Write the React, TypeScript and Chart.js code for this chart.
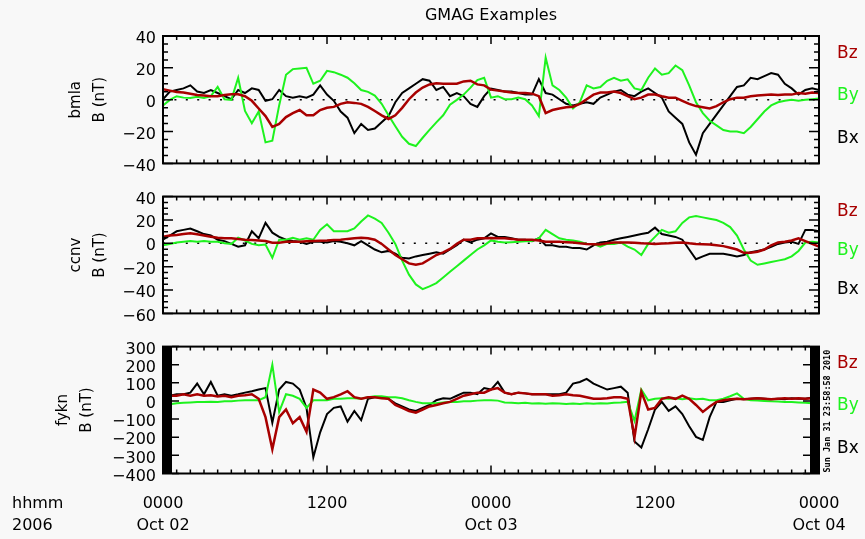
"use client"

import { useEffect, useRef } from "react"
import { Chart, registerables } from "chart.js"

Chart.register(...registerables)

const FONT = "'DejaVu Sans', 'Liberation Sans', sans-serif"
const MONO = "'DejaVu Sans Mono', monospace"
const BACKGROUND = "#f8f8f8"
const RED = "#a80000"
const GREEN = "#1ef21e"
const BLACK = "#000000"
const WIDTH = 865
const HEIGHT = 539

// half-hour samples, hours after 2006-10-02 00:00 UT
const hours = Array.from({ length: 97 }, (_, i) => i / 2)

const xTickHours = [0, 12, 24, 36, 48]
const xTickTimes = ["0000", "1200", "0000", "1200", "0000"]
const xTickDates = ["Oct 02", "", "Oct 03", "", "Oct 04"]
const xAxisCaption = ["hhmm", "2006"]

const components = ["Bz", "By", "Bx"]
const stamp = "Sun Jan 31 23:58:58 2010"

// bmla (nT)
const bmlaBz = [
  6.5, 5.7, 4.9, 4.5, 3.8, 3.0, 2.6, 2.2, 2.2, 3.0,
  3.4, 3.4, 2.2, -0.7, -5.5, -10.3, -17.1, -15.2, -10.9, -8.4,
  -6.5, -9.8, -9.8, -6.5, -5.1, -4.5, -2.6, -1.6, -2.0, -2.6,
  -4.5, -7.1, -9.8, -12.1, -9.8, -5.1, 0.3, 4.5, 7.6, 9.6,
  10.3, 10.0, 10.0, 10.0, 11.5, 11.9, 9.6, 9.0, 6.3,
  5.7, 5.1, 4.5, 4.2, 4.2, 3.8, 2.2, -8.4, -6.5, -5.5,
  -4.7, -4.5, -2.6, 0.3, 3.2, 4.5, 4.5, 5.1, 4.2, 2.2,
  0.3, 1.3, 3.2, 3.2, 2.2, 1.3, 1.3, -0.7, -2.6, -4.0,
  -4.7, -5.5, -4.0, -1.6, 0.3, 1.3, 1.3, 2.2, 2.6, 3.0,
  3.2, 3.0, 3.2, 3.2, 4.2, 3.8, 4.5, 4.2,
]
const bmlaBy = [
  -3.6, -0.1, 2.2, 1.3, 1.1, 1.8, 1.1, 2.2, 8.0, 0.3,
  -0.1, 13.8, -7.1, -14.8, -7.4, -26.8, -25.8, -3.6, 15.7, 19.2,
  19.6, 20.0, 10.0, 11.9, 18.1, 17.3, 15.7, 13.8, 10.3, 6.1,
  4.9, 2.6, -2.6, -9.8, -16.7, -23.3, -27.7, -29.1, -23.9, -19.0,
  -14.2, -9.8, -3.2, -0.1, 3.2, 7.6, 12.3, 13.8, 1.3,
  2.2, 0.3, 0.3, 1.3, 0.3, -3.6, -10.3, 26.4, 9.0, 6.1,
  1.3, -5.5, -1.6, 9.0, 7.1, 8.0, 11.9, 13.8, 11.9, 12.8,
  7.1, 6.1, 13.8, 19.6, 15.7, 16.7, 21.5, 18.6, 9.0, -1.6,
  -8.4, -13.2, -16.1, -19.0, -20.0, -20.0, -21.0, -17.1, -12.3, -7.4,
  -3.6, -1.6, -0.7, -0.1, -0.7, -0.1, 0.3, 0.7,
]
const bmlaBx = [
  0.3, 5.1, 6.1, 7.1, 9.0, 5.1, 4.2, 6.1, 4.2, 2.2,
  0.3, 6.1, 4.2, 7.1, 6.1, -0.7, 0.3, 6.1, 2.2, 1.3,
  2.2, 1.3, 3.2, 9.0, 3.2, -0.7, -7.4, -11.3, -21.0, -15.2,
  -19.0, -18.1, -14.2, -10.3, -1.6, 4.2, 7.1, 10.0, 12.9, 11.9,
  6.1, 8.0, 2.2, 4.2, 2.2, -2.6, -4.5, 2.2, 7.0,
  6.1, 5.1, 5.1, 4.2, 3.2, 3.2, 12.9, 4.2, 3.2, 0.3,
  -2.6, -3.6, -2.6, -1.6, -2.6, 1.3, 3.2, 5.1, 6.1, 3.2,
  2.2, 5.1, 7.1, 4.2, 1.3, -7.4, -11.3, -15.2, -26.8, -34.5,
  -21.0, -15.2, -9.4, -3.6, 2.2, 8.0, 9.0, 13.8, 12.9, 14.8,
  16.7, 15.7, 10.0, 7.1, 3.2, 6.1, 7.1, 6.1,
]

// ccnv (nT)
const ccnvBz = [
  5.5, 6.7, 7.2, 7.9, 8.6, 7.7, 6.7, 5.7, 4.8, 4.3,
  4.3, 3.6, 3.1, 2.9, 2.4, 1.9, 0.5, 0.5, 1.4, 1.4,
  1.4, 1.7, 1.9, 2.2, 2.4, 2.9, 3.1, 3.8, 4.3, 4.8,
  4.3, 3.1, -0.5, -5.3, -10.0, -13.6, -17.2, -18.4, -17.2, -13.6,
  -10.0, -7.7, -4.8, -0.5, 3.1, 3.1, 4.3, 4.3, 4.5,
  4.3, 4.3, 3.8, 3.1, 3.1, 3.1, 2.4, 1.4, 1.4, 1.4,
  1.0, 0.7, 0, -0.5, -0.7, -1.0, 0, 0.7, 0.7, 0.7,
  0.5, 0, -0.2, -0.5, -0.2, 0, 0.5, 0.7, 0, -0.5,
  -0.7, -1.0, -1.7, -2.4, -3.8, -5.3, -8.1, -8.1, -7.2, -5.3,
  -1.7, 0.7, 1.4, 2.4, 4.3, 1.9, -0.5, -2.9,
]
const ccnvBy = [
  -1.7, -0.5, 0.7, 1.4, 1.9, 1.4, 1.9, 1.4, 1.4, 0,
  -0.5, 4.8, 2.4, -0.5, -1.7, -1.0, -12.4, 3.1, 3.1, 4.8,
  3.1, 4.3, 3.1, 11.5, 16.3, 10.3, 10.3, 10.3, 12.7, 18.7,
  23.9, 21.1, 17.5, 9.1, -0.5, -14.8, -26.8, -35.2, -39.2, -36.8,
  -34.0, -29.2, -24.4, -19.6, -14.8, -10.0, -5.3, -1.7, 2.5,
  1.4, 0.7, 1.0, 1.4, 1.7, 1.9, 4.3, 11.5, 7.9, 4.3,
  3.1, 2.4, 1.4, -0.5, -0.5, -2.9, -0.5, -0.5, 0.7, -2.9,
  -5.3, -10.0, -0.5, 5.5, 11.5, 9.1, 10.3, 17.5, 22.2, 23.4,
  22.2, 21.1, 19.9, 17.5, 13.9, 6.7, -5.3, -14.8, -18.4, -17.2,
  -16.0, -14.8, -13.6, -11.2, -6.5, 0.7, 1.4, 0.7,
]
const ccnvBx = [
  3.1, 6.7, 10.3, 11.5, 12.7, 10.3, 7.9, 6.7, 3.1, 1.9,
  -0.5, -2.9, -1.7, 10.3, 4.3, 17.5, 9.1, 5.5, 3.1, 1.9,
  1.4, -0.5, 1.4, 1.4, 0.7, 1.9, 1.4, 0, -1.7, 1.9,
  -1.7, -5.3, -7.7, -6.5, -8.9, -12.4, -12.9, -11.2, -10.0, -8.9,
  -7.7, -8.9, -5.3, -1.7, 3.1, 0.7, 3.1, 4.3, 8.5,
  5.5, 5.5, 4.3, 3.1, 3.1, 1.9, 4.3, -1.7, -1.7, -2.9,
  -2.9, -4.1, -4.1, -5.3, -1.7, 0.7, 1.4, 3.1, 4.3, 5.5,
  6.7, 7.9, 9.1, 13.4, 7.9, 6.7, 5.5, 3.1, -5.3, -13.6,
  -11.2, -8.9, -8.9, -8.9, -10.0, -11.2, -10.0, -7.7, -6.5, -5.3,
  -2.9, -0.5, 0.7, 1.4, -0.5, 11.5, 11.5, 10.3,
]

// fykn (nT)
const fyknBz = [
  21, 29, 29, 37, 29, 37, 29, 32, 25, 29,
  21, 29, 32, 37, 12, -89, -266, -89, -47, -123,
  -89, -170, 63, 46, 12, 21, 37, 54, 21, 12,
  21, 21, 15, 12, -22, -38, -55, -64, -47, -30,
  -22, -13, -5, 12, 29, 37, 46, 46, 63, 71,
  46, 37, 46, 42, 37, 37, 37, 29, 32, 37,
  32, 29, 21, 12, 12, 15, 21, 21, 12, -200,
  50, -47, -38, 12, 21, 12, 29, 12, -22, -60,
  -30, -5, 4, 9, 12, 9, 12, 15, 12, 9,
  12, 15, 12, 15, 12, 15, 18,
]
const fyknBy = [
  -22, -18, -13, -10, -8, -6, -5, -4, -5, -2,
  -1, 2, 4, 4, 4, 21, 200, -60, 37, 29,
  12, -38, 4, 4, 4, 12, 12, 15, 15, 12,
  21, 26, 26, 21, 21, 15, 4, -5, -13, -13,
  -13, -8, -5, -5, -1, -1, 2, 4, 4, 2,
  -8, -10, -12, -10, -14, -12, -15, -12, -14, -16,
  -14, -16, -13, -15, -12, -14, -10, -8, -4, -110,
  63, 4, 12, 15, 12, 15, 9, 15, 9, 12,
  4, 4, 12, 26, 42, 12, 4, 2, 0, -2,
  -3, -5, -6, -8, -10, -12, -13,
]
const fyknBx = [
  12, 29, 37, 37, 46, 96, 37, 105, 29, 37,
  29, 37, 46, 54, 63, 71, -120, 63, 105, 96,
  63, -38, -310, -173, -72, -38, -30, -114, -55, -106,
  12, 21, 21, 12, -13, -30, -47, -55, -38, -22,
  4, 15, 12, 29, 46, 46, 37, 71, 63, 105,
  46, 37, 46, 42, 37, 37, 37, 37, 37, 46,
  96, 105, 122, 96, 79, 63, 71, 79, 46, -224,
  -257, -156, -47, -5, -55, -30, -72, -139, -198, -215,
  -89, -5, -5, 4, 12, 9, 12, 15, 12, 9,
  12, 9, 15, 12, 12, 19, 21,
]

type PanelSpec = {
  station: string
  bz: number[]
  by: number[]
  bx: number[]
  yMin: number
  yMax: number
  yMajor: number
  yMinor: number
  top: number
  height: number
  padTop: number
  padBottom: number
  axisWidth: number
  axisHeight?: number
  zeroLine?: boolean
  sideBars?: boolean
  timeAxis?: boolean
  title?: string
}

const panels: PanelSpec[] = [
  {
    station: "bmla", bz: bmlaBz, by: bmlaBy, bx: bmlaBx,
    yMin: -40, yMax: 40, yMajor: 20, yMinor: 5,
    top: 0, height: 180, padTop: 0, padBottom: 6, axisWidth: 99,
    zeroLine: true, title: "GMAG Examples",
  },
  {
    station: "ccnv", bz: ccnvBz, by: ccnvBy, bx: ccnvBx,
    yMin: -60, yMax: 40, yMajor: 20, yMinor: 5,
    top: 180, height: 150, padTop: 4.5, padBottom: 6.5, axisWidth: 99,
    zeroLine: true,
  },
  {
    station: "fykn", bz: fyknBz, by: fyknBy, bx: fyknBx,
    yMin: -400, yMax: 300, yMajor: 100, yMinor: 100,
    top: 330, height: 209, padTop: 5, padBottom: 0, axisWidth: 112, axisHeight: 65.5,
    sideBars: true, timeAxis: true,
  },
]

const fmt = (v: number) => (v < 0 ? `\u2212${Math.abs(v)}` : `${v}`)

const TICK_PAD = 19
const TICK_LINE = 22.5

function Panel({ spec }: { spec: PanelSpec }) {
  const canvasRef = useRef<HTMLCanvasElement>(null)

  useEffect(() => {
    if (!canvasRef.current) return

    const series = [
      { label: components[0], values: spec.bz, color: RED, width: 2.5 },
      { label: components[1], values: spec.by, color: GREEN, width: 2 },
      { label: components[2], values: spec.bx, color: BLACK, width: 2 },
    ]

    // IDL-style frame: inward ticks, dotted zero line, labels on the right
    const decor = {
      id: "panelDecor",
      beforeDatasetsDraw(chart: any) {
        if (!spec.zeroLine) return
        const { ctx, chartArea } = chart
        const py = chart.scales.y.getPixelForValue(0)
        ctx.save()
        ctx.strokeStyle = BLACK
        ctx.lineWidth = 1.5
        ctx.setLineDash([2, 9.4])
        ctx.beginPath()
        ctx.moveTo(chartArea.left, py)
        ctx.lineTo(chartArea.right, py)
        ctx.stroke()
        ctx.restore()
      },
      afterDatasetsDraw(chart: any) {
        const { ctx, chartArea } = chart
        const { left, right, top, bottom } = chartArea
        const xs = chart.scales.x
        const ys = chart.scales.y
        ctx.save()
        ctx.strokeStyle = BLACK
        ctx.fillStyle = BLACK
        ctx.lineWidth = 1.5

        const bar = spec.sideBars ? 9 : 0
        if (bar) {
          ctx.fillRect(left, top, bar, bottom - top)
          ctx.fillRect(right - bar, top, bar, bottom - top)
        }

        ctx.beginPath()
        for (let h = xs.min; h <= xs.max; h += 1) {
          const px = xs.getPixelForValue(h)
          const len = h % 12 === 0 ? 8 : 4
          ctx.moveTo(px, top)
          ctx.lineTo(px, top + len)
          ctx.moveTo(px, bottom)
          ctx.lineTo(px, bottom - len)
        }
        for (let v = spec.yMin; v <= spec.yMax; v += spec.yMinor) {
          const py = ys.getPixelForValue(v)
          const len = bar ? 7 : v % spec.yMajor === 0 ? 10 : 5
          ctx.moveTo(left + bar, py)
          ctx.lineTo(left + bar + len, py)
          ctx.moveTo(right - bar, py)
          ctx.lineTo(right - bar - len, py)
        }
        ctx.stroke()

        ctx.lineWidth = 2
        ctx.strokeRect(left, top, right - left, bottom - top)

        ctx.font = `17px ${FONT}`
        ctx.textAlign = "left"
        ctx.textBaseline = "middle"
        const h3 = (bottom - top) / 3
        chart.data.datasets.forEach((ds: any, i: number) => {
          ctx.fillStyle = ds.borderColor
          ctx.fillText(ds.label, right + 18, top + (i + 0.5) * h3 - 4)
        })

        if (spec.sideBars) {
          ctx.save()
          ctx.fillStyle = BLACK
          ctx.font = `bold 8.5px ${MONO}`
          ctx.translate(right + 9, bottom - 1)
          ctx.rotate(-Math.PI / 2)
          ctx.fillText(stamp, 0, 0)
          ctx.restore()
        }

        if (spec.timeAxis) {
          ctx.fillStyle = BLACK
          ctx.font = `16px ${FONT}`
          xAxisCaption.forEach((text, i) => {
            ctx.fillText(text, 12, xs.top + TICK_PAD + TICK_LINE / 2 + i * TICK_LINE)
          })
        }
        ctx.restore()
      },
    }

    const chart = new Chart(canvasRef.current, {
      type: "line",
      data: {
        datasets: series.map((s) => ({
          label: s.label,
          data: s.values.map((v, i) => ({ x: hours[i], y: v })),
          borderColor: s.color,
          backgroundColor: s.color,
          borderWidth: s.width,
          pointRadius: 0,
          tension: 0,
          fill: false,
        })),
      },
      options: {
        animation: false,
        responsive: false,
        maintainAspectRatio: false,
        events: [],
        layout: {
          padding: {
            left: 163 - spec.axisWidth,
            right: 46,
            top: spec.padTop,
            bottom: spec.padBottom,
          },
        },
        plugins: {
          legend: { display: false },
          tooltip: { enabled: false },
          title: {
            display: !!spec.title,
            text: spec.title ?? "",
            fullSize: false,
            color: BLACK,
            font: { family: FONT, size: 16, weight: "normal", lineHeight: "20px" },
            padding: { top: 6, bottom: 10 },
          },
        },
        scales: {
          x: {
            type: "linear",
            min: 0,
            max: 48,
            display: !!spec.timeAxis,
            afterFit: (scale: any) => {
              if (spec.axisHeight) scale.height = spec.axisHeight
            },
            afterBuildTicks: (scale: any) => {
              scale.ticks = xTickHours.map((value) => ({ value }))
            },
            grid: { display: false, drawTicks: false },
            border: { display: false },
            ticks: {
              autoSkip: false,
              maxRotation: 0,
              padding: TICK_PAD,
              color: BLACK,
              font: { family: FONT, size: 16, lineHeight: `${TICK_LINE}px` },
              callback: (value: any) => {
                const i = xTickHours.indexOf(Number(value))
                return i < 0 ? "" : [xTickTimes[i], xTickDates[i]]
              },
            },
          },
          y: {
            min: spec.yMin,
            max: spec.yMax,
            afterFit: (scale: any) => {
              scale.width = spec.axisWidth
            },
            grid: { display: false, drawTicks: false },
            border: { display: false },
            ticks: {
              stepSize: spec.yMajor,
              autoSkip: false,
              padding: 7,
              labelOffset: 3,
              color: BLACK,
              font: { family: FONT, size: 16 },
              callback: (value: any) => fmt(Number(value)),
            },
            title: {
              display: true,
              text: [spec.station, "B (nT)"],
              color: BLACK,
              padding: 0,
              font: { family: FONT, size: 15, lineHeight: "24px" },
            },
          },
        },
      },
      plugins: [decor],
    } as any)

    return () => {
      chart.destroy()
    }
  }, [spec])

  return (
    <canvas
      ref={canvasRef}
      width={WIDTH}
      height={spec.height}
      style={{ position: "absolute", left: 0, top: spec.top, width: WIDTH, height: spec.height }}
    />
  )
}

export default function App() {
  return (
    <div
      style={{
        position: "fixed",
        left: 0,
        top: 0,
        width: WIDTH,
        height: HEIGHT,
        background: BACKGROUND,
        overflow: "hidden",
      }}
    >
      {panels.map((p) => (
        <Panel key={p.station} spec={p} />
      ))}
    </div>
  )
}
